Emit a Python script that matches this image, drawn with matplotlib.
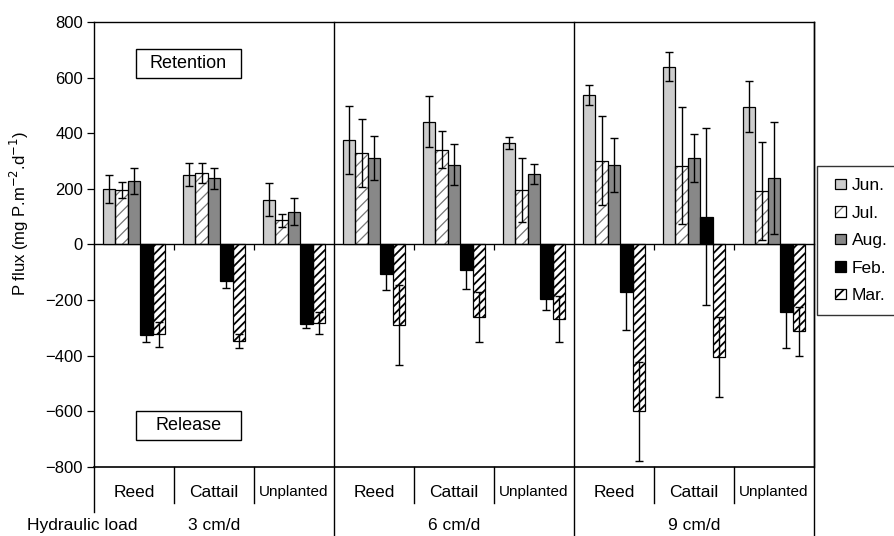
import numpy as np
import matplotlib
matplotlib.use("Agg")
import matplotlib.pyplot as plt
from matplotlib.patches import Rectangle, Patch
from matplotlib.legend_handler import HandlerBase
import matplotlib.transforms as mtransforms

plt.rcParams['font.family'] = ['Liberation Sans', 'DejaVu Sans']

# ---------------- data ----------------
months = ["Jun.", "Jul.", "Aug.", "Feb.", "Mar."]
plants = ["Reed", "Cattail", "Unplanted"]
loads = ["3 cm/d", "6 cm/d", "9 cm/d"]

# rows: Reed3, Cattail3, Unpl3, Reed6, Cattail6, Unpl6, Reed9, Cattail9, Unpl9
jun = [199, 251, 161, 375, 441, 366, 539, 639, 495]
jul = [197, 256, 86, 328, 341, 197, 301, 283, 192]
aug = [228, 237, 118, 311, 287, 253, 286, 312, 239]
feb = [-327, -133, -286, -106, -94, -196, -171, 100, -245]
mar = [-324, -348, -283, -290, -261, -269, -601, -405, -312]

jun_err = [52, 41, 59, 121, 91, 22, 36, 52, 92]
jul_err = [29, 35, 23, 123, 66, 115, 161, 210, 177]
aug_err = [47, 38, 47, 79, 74, 37, 98, 86, 200]
feb_err = [25, 25, 14, 58, 67, 40, 138, 317, 127]
mar_err = [46, 26, 40, 145, 90, 83, 178, 143, 88]

yticks = [-800, -600, -400, -200, 0, 200, 400, 600, 800]

series = [jun, jul, aug, feb, mar]
errors = [jun_err, jul_err, aug_err, feb_err, mar_err]
faces = ["#cccccc", "white", "#888888", "black", "white"]
hatches = [None, "///", None, None, "////"]
hatch_colors = [None, "#777777", None, None, "black"]
hatch_lw = [None, 0.9, None, None, 1.3]

# ---------------- figure ----------------
fig = plt.figure(figsize=(8.95, 5.36), dpi=100)
L, R, T, B = 94, 814, 22, 466.7
W, H = 895, 536
ax = fig.add_axes([L / W, 1 - B / H, (R - L) / W, (B - T) / H])

n = len(jun)
x = np.arange(n) + 0.5
bw = 0.156
for i, (vals, errs) in enumerate(zip(series, errors)):
    pos = x + (i - 2) * bw
    if hatches[i]:
        plt.rcParams['hatch.linewidth'] = hatch_lw[i]
        hb = ax.bar(pos, vals, width=bw, color="white", edgecolor=hatch_colors[i],
                    hatch=hatches[i], linewidth=0, zorder=2)
        for p in hb:
            try:
                p.set_hatch_linewidth(hatch_lw[i])
            except Exception:
                pass
        ax.bar(pos, vals, width=bw, fill=False, edgecolor="black", linewidth=0.9, zorder=3)
    else:
        ax.bar(pos, vals, width=bw, color=faces[i], edgecolor="black", linewidth=0.9, zorder=3)
    ax.errorbar(pos, vals, yerr=errs, fmt="none", ecolor="black", elinewidth=1.0,
                capsize=2.6, capthick=1.0, zorder=4)

ax.set_xlim(0, n)
ax.set_ylim(-800, 800)
ax.set_yticks(yticks)
ax.tick_params(axis='y', direction='out', length=5, width=0.9, labelsize=12, pad=3)
ax.set_ylabel("P flux (mg P.m$^{-2}$.d$^{-1}$)", fontsize=12)
ax.yaxis.set_label_coords(-0.087, 0.57)

# zero line as bottom spine with small ticks
ax.spines['bottom'].set_position(('data', 0))
ax.set_xticks([1, 2, 4, 5, 7, 8])
ax.set_xticklabels([])
ax.tick_params(axis='x', direction='out', length=4, width=0.9)
for s in ax.spines.values():
    s.set_linewidth(1.0)
ax.plot([0, 1], [0, 0], transform=ax.transAxes, color="black", lw=1.2, clip_on=False)

# dividers
blend = mtransforms.blended_transform_factory(ax.transData, ax.transAxes)
for xv in [3, 6, 9]:
    ax.plot([xv, xv], [1, -0.16], transform=blend, color="black", lw=1.0, clip_on=False)
for xv in [1, 2, 4, 5, 7, 8]:
    ax.plot([xv, xv], [0, -0.0816], transform=blend, color="black", lw=1.0, clip_on=False)
ax.plot([0, 0], [0, -0.102], transform=blend, color="black", lw=1.0, clip_on=False)

# category labels
for i in range(n):
    lab = plants[i % 3]
    fs = 11 if lab == "Unplanted" else 12.5
    ax.text(x[i], -0.057, lab, transform=blend, ha="center", va="center", fontsize=fs)
for j, ld in enumerate(loads):
    ax.text(3 * j + 1.5, -0.133, ld, transform=blend, ha="center", va="center", fontsize=12.5)
ax.text(-0.093, -0.133, "Hydraulic load", transform=ax.transAxes, ha="left", va="center", fontsize=12.5)

# Retention / Release boxes
for y0, txt in [(0.874, "Retention"), (0.060, "Release")]:
    ax.add_patch(Rectangle((0.0583, y0), 0.1458, 0.0652, transform=ax.transAxes,
                           fill=False, edgecolor="black", lw=1.0, zorder=5))
    ax.text(0.0583 + 0.1458 / 2, y0 + 0.0652 / 2, txt, transform=ax.transAxes,
            ha="center", va="center", fontsize=13, zorder=6)


# legend
class SquareHandler(HandlerBase):
    def __init__(self, face, hatch, hcolor, hlw):
        super().__init__()
        self.face, self.hatch, self.hcolor, self.hlw = face, hatch, hcolor, hlw

    def create_artists(self, legend, orig_handle, xdescent, ydescent, width, height,
                       fontsize, trans):
        size = height
        xy = (-xdescent + width - size, -ydescent + (height - size) / 2)
        arts = []
        if self.hatch:
            plt.rcParams['hatch.linewidth'] = self.hlw
            h = Rectangle(xy, size, size, facecolor="white", edgecolor=self.hcolor,
                          hatch=self.hatch, linewidth=0, transform=trans)
            try:
                h.set_hatch_linewidth(self.hlw)
            except Exception:
                pass
            arts.append(h)
            arts.append(Rectangle(xy, size, size, fill=False, edgecolor="black",
                                  linewidth=0.9, transform=trans))
        else:
            arts.append(Rectangle(xy, size, size, facecolor=self.face, edgecolor="black",
                                  linewidth=0.9, transform=trans))
        return arts


handles = [Patch(facecolor=faces[i]) for i in range(5)]
hmap = {handles[i]: SquareHandler(faces[i], "//" if hatches[i] else None,
                                  hatch_colors[i], hatch_lw[i]) for i in range(5)}
leg = ax.legend(handles, months, loc="upper left", bbox_to_anchor=(1.004, 0.676),
                fontsize=12.5, frameon=True, fancybox=False, edgecolor="black",
                handlelength=0.95, handleheight=0.55, handletextpad=0.35,
                labelspacing=0.72, borderpad=0.7, borderaxespad=0,
                handler_map=hmap)
leg.get_frame().set_linewidth(1.0)

fig.savefig("out.png", dpi=100)
